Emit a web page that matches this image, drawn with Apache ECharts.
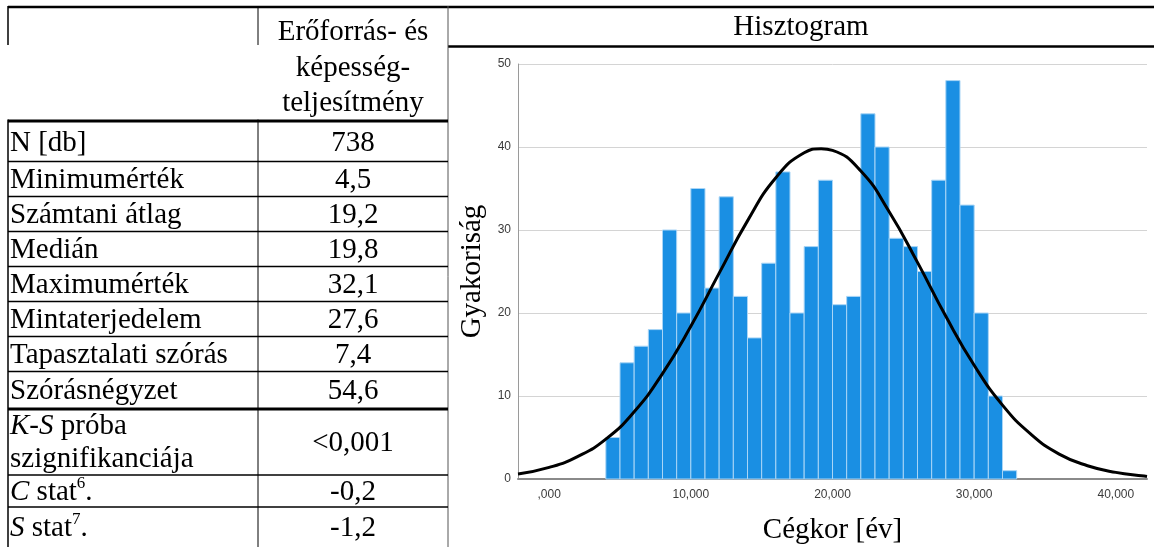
<!DOCTYPE html>
<html><head><meta charset="utf-8">
<script src="https://cdn.jsdelivr.net/npm/echarts@6/dist/echarts.min.js"></script>
<style>html,body{margin:0;padding:0;background:#fff}#c{width:1154px;height:547px}</style>
</head><body><div id="c"></div>
<script>
// ---- data ----
const binStarts = [4,5,6,7,8,9,10,11,12,13,14,15,16,17,18,19,20,21,22,23,24,25,26,27,28,29,30,31,32];
const binWidth = 1;
const counts = [5,14,16,18,30,20,35,23,34,22,17,26,37,20,28,36,21,22,44,40,29,28,25,36,48,33,20,10,1];
const curveX = [-2.2,0,2,4,6,8,10,12,14,16,18,19.2,20,22,24,26,28,30,32,34,36,38,40,42,42.2];
const curveY = [0.6,1.4,2.7,4.8,8.1,12.7,18.4,24.8,31.1,36.3,39.3,39.8,39.6,37.1,32.2,26.1,19.6,13.7,8.9,5.4,3.0,1.6,0.8,0.35,0.3];
const xTickValues = [0,10,20,30,40];
const xTickLabels = [',000','10,000','20,000','30,000','40,000'];
const chartTitle = 'Hisztogram';
const yName = 'Gyakoriság';
const xName = 'Cégkor [év]';
const headerLines = ['Erőforrás- és','képesség-','teljesítmény'];
const rowLabels = ['N [db]','Minimumérték','Számtani átlag','Medián','Maximumérték','Mintaterjedelem','Tapasztalati szórás','Szórásnégyzet','{i|K-S} próba\nszignifikanciája','{i|C} stat{sup|6}.','{i|S} stat{sup|7}.'];
const rowValues = ['738','4,5','19,2','19,8','32,1','27,6','7,4','54,6','<0,001','-0,2','-1,2'];

// ---- layout ----
const SERIF = '"Liberation Serif","Times New Roman",serif';
const FS = 29;
const rowMid = [143,180,215,250,285,320,355,391,443,492,528];
const headerMid = [32.6,68,103.6];
const colLeftX = 10, colValX = 353;

const lines = [
  [8,7,1154,7,2.5,'#000'],
  [448,46.5,1154,46.5,2.5,'#000'],
  [8,6,8,45,1.5,'#000'],
  [258,6,258,45,1,'#000'],
  [448,6,448,547,1,'#555'],
  [8,121,448,121,3,'#000'],
  [8,161.5,448,161.5,1.5,'#000'],
  [8,196.5,448,196.5,1.5,'#000'],
  [8,231.5,448,231.5,1.5,'#000'],
  [8,266.5,448,266.5,1.5,'#000'],
  [8,301.5,448,301.5,1.5,'#000'],
  [8,336.5,448,336.5,1.5,'#000'],
  [8,371.5,448,371.5,1.5,'#000'],
  [8,409,448,409,3,'#000'],
  [8,475,448,475,1.5,'#000'],
  [8,507,448,507,1.5,'#000'],
  [8,119.5,8,547,1.5,'#000'],
  [258,119.5,258,547,1,'#000']
];

const rich = {
  i: {fontStyle:'italic', fontFamily:SERIF, fontSize:FS, fill:'#000'},
  sup: {fontFamily:SERIF, fontSize:17, verticalAlign:'top', fill:'#000'}
};

const graphic = [];
lines.forEach(l => graphic.push({type:'line', silent:true, shape:{x1:l[0],y1:l[1],x2:l[2],y2:l[3]}, style:{stroke:l[5], lineWidth:l[4]}}));
function txt(t, x, y, align){
  return {type:'text', silent:true, x:x, y:y, style:{text:t, fontFamily:SERIF, fontSize:FS, fill:'#000', align:align, verticalAlign:'middle', lineHeight:33, rich:rich}};
}
headerLines.forEach((t,i) => graphic.push(txt(t, colValX, headerMid[i], 'center')));
graphic.push(txt(chartTitle, 801, 27, 'center'));
rowLabels.forEach((t,i) => graphic.push(txt(t, colLeftX, rowMid[i], 'left')));
rowValues.forEach((t,i) => graphic.push(txt(t, colValX, rowMid[i], 'center')));

const chart = echarts.init(document.getElementById('c'), null, {renderer:'canvas'});
chart.setOption({
  animation:false,
  backgroundColor:'#fff',
  grid:{left:518, right:7, top:64, bottom:68, containLabel:false, outerBoundsMode:'none'},
  xAxis:{
    type:'value', min:-2.2, max:42.2,
    name:xName, nameLocation:'middle', nameGap:37,
    nameTextStyle:{fontFamily:SERIF, fontSize:FS, color:'#000'},
    axisLine:{show:true, onZero:false, lineStyle:{color:'#8a8a8a', width:2}},
    axisTick:{show:false},
    splitLine:{show:false},
    axisLabel:{customValues:xTickValues, formatter:v => xTickLabels[xTickValues.indexOf(v)], color:'#3a3a3a', fontSize:12, fontFamily:'"Liberation Sans",Arial,sans-serif', margin:10}
  },
  yAxis:{
    type:'value', min:0, max:50, interval:10,
    name:yName, nameLocation:'middle', nameGap:18, nameRotate:90,
    nameTextStyle:{fontFamily:SERIF, fontSize:FS, color:'#000'},
    axisLine:{show:true, onZero:false, lineStyle:{color:'#9a9a9a', width:1}},
    axisTick:{show:false},
    splitLine:{show:true, lineStyle:{color:'#d4d4d4', width:1}},
    axisLabel:{color:'#3a3a3a', fontSize:12, fontFamily:'"Liberation Sans",Arial,sans-serif', margin:7}
  },
  series:[
    {
      type:'custom',
      data: binStarts.map((s,i) => [s, s+binWidth, counts[i]]),
      encode:{x:[0,1], y:2},
      renderItem:function(params, api){
        const p0 = api.coord([api.value(0), api.value(2)]);
        const p1 = api.coord([api.value(1), 0]);
        return {type:'rect', shape:{x:p0[0], y:p0[1], width:p1[0]-p0[0], height:p1[1]-p0[1]},
          style:{fill:'#1a8fe3', stroke:'#a9d5f6', lineWidth:1}};
      },
      z:2
    },
    {
      type:'line',
      data: curveX.map((x,i) => [x, curveY[i]]),
      smooth:true, symbol:'none',
      lineStyle:{color:'#000', width:3},
      z:3
    }
  ],
  graphic:graphic
});
</script>
</body></html>
